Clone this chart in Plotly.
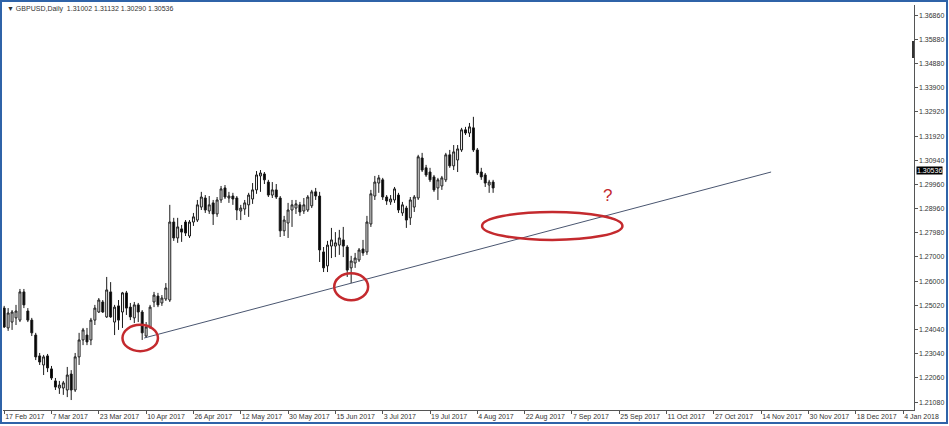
import plotly.graph_objects as go

# ---------------- data ----------------
opens = [1.2491,1.2410,1.2434,1.2451,1.2442,1.2557,1.2479,1.2442,1.2381,1.2296,
         1.2259,1.2296,1.2243,1.2194,1.2165,1.2165,1.2157,1.2222,1.2157,1.2292,
         1.2361,1.2381,1.2361,1.2442,1.2475,1.2516,1.2455,1.2557,1.2434,1.2500,
         1.2475,1.2553,1.2495,1.2451,1.2504,1.2475,1.2377,1.2414,1.2516,1.2540,
         1.2512,1.2528,1.2524,1.2842,1.2777,1.2814,1.2842,1.2785,1.2842,1.2850,
         1.2903,1.2940,1.2887,1.2920,1.2875,1.2932,1.2981,1.2940,1.2948,1.2940,
         1.2887,1.2895,1.2912,1.2936,1.2973,1.3030,1.3038,1.3005,1.2952,1.2973,
         1.2940,1.2806,1.2838,1.2891,1.2899,1.2912,1.2887,1.2891,1.2908,1.2965,
         1.2948,1.2720,1.2663,1.2744,1.2744,1.2748,1.2769,1.2740,1.2655,1.2675,
         1.2687,1.2732,1.2720,1.2834,1.2948,1.3001,1.3014,1.2944,1.2924,1.2932,
         1.2952,1.2879,1.2899,1.2859,1.2903,1.2940,1.3103,1.3063,1.3046,1.3026,
         1.2981,1.2989,1.3014,1.3116,1.3071,1.3095,1.3136,1.3218,1.3205,1.3226,
         1.3136,1.3046,1.3034,1.2993,1.3005]
highs = [1.2500,1.2491,1.2483,1.2504,1.2569,1.2569,1.2491,1.2451,1.2390,1.2308,
         1.2300,1.2304,1.2255,1.2206,1.2194,1.2194,1.2251,1.2238,1.2308,1.2390,
         1.2410,1.2410,1.2451,1.2504,1.2532,1.2524,1.2618,1.2597,1.2504,1.2524,
         1.2557,1.2561,1.2512,1.2516,1.2512,1.2483,1.2434,1.2504,1.2557,1.2553,
         1.2544,1.2593,1.2912,1.2859,1.2859,1.2830,1.2850,1.2850,1.2879,1.2932,
         1.2965,1.2952,1.2948,1.2932,1.2944,1.2989,1.2993,1.2965,1.2961,1.2948,
         1.2912,1.2932,1.2961,1.3001,1.3050,1.3054,1.3046,1.3014,1.3005,1.2997,
         1.2948,1.2867,1.2920,1.2932,1.2932,1.2924,1.2940,1.2952,1.2973,1.2981,
         1.2965,1.2740,1.2765,1.2818,1.2801,1.2810,1.2822,1.2748,1.2704,1.2716,
         1.2736,1.2769,1.2867,1.2973,1.3030,1.3034,1.3022,1.2952,1.2952,1.2985,
         1.2961,1.2924,1.2908,1.2944,1.2952,1.3116,1.3124,1.3075,1.3063,1.3034,
         1.3022,1.3030,1.3124,1.3136,1.3156,1.3156,1.3226,1.3230,1.3246,1.3271,
         1.3144,1.3063,1.3042,1.3014,1.3014]
lows = [1.2410,1.2398,1.2402,1.2422,1.2434,1.2491,1.2434,1.2377,1.2279,1.2259,
        1.2218,1.2230,1.2198,1.2157,1.2141,1.2137,1.2128,1.2116,1.2149,1.2259,
        1.2340,1.2340,1.2340,1.2422,1.2471,1.2471,1.2451,1.2451,1.2381,1.2402,
        1.2410,1.2463,1.2442,1.2430,1.2434,1.2361,1.2369,1.2406,1.2495,1.2495,
        1.2500,1.2520,1.2516,1.2765,1.2757,1.2761,1.2785,1.2777,1.2826,1.2842,
        1.2891,1.2879,1.2875,1.2830,1.2863,1.2920,1.2936,1.2920,1.2912,1.2850,
        1.2850,1.2871,1.2863,1.2916,1.2957,1.2965,1.2997,1.2944,1.2940,1.2936,
        1.2781,1.2785,1.2777,1.2822,1.2875,1.2867,1.2875,1.2883,1.2899,1.2932,
        1.2679,1.2638,1.2638,1.2695,1.2699,1.2708,1.2699,1.2618,1.2593,1.2655,
        1.2679,1.2704,1.2708,1.2822,1.2932,1.2961,1.2932,1.2912,1.2912,1.2920,
        1.2879,1.2867,1.2818,1.2830,1.2883,1.2932,1.3046,1.3026,1.3005,1.2965,
        1.2932,1.2973,1.3005,1.3063,1.3054,1.3046,1.3128,1.3197,1.3189,1.3128,
        1.3034,1.3014,1.2985,1.2961,1.2961]
closes = [1.2414,1.2471,1.2475,1.2479,1.2557,1.2504,1.2442,1.2390,1.2292,1.2271,
          1.2292,1.2247,1.2206,1.2169,1.2177,1.2186,1.2218,1.2157,1.2292,1.2361,
          1.2402,1.2353,1.2442,1.2491,1.2524,1.2475,1.2565,1.2455,1.2495,1.2442,
          1.2553,1.2491,1.2455,1.2504,1.2475,1.2390,1.2414,1.2495,1.2544,1.2504,
          1.2532,1.2573,1.2842,1.2777,1.2822,1.2801,1.2797,1.2842,1.2863,1.2912,
          1.2944,1.2891,1.2912,1.2875,1.2932,1.2977,1.2944,1.2948,1.2936,1.2891,
          1.2899,1.2920,1.2952,1.2973,1.3034,1.3042,1.3014,1.2952,1.2973,1.2944,
          1.2806,1.2850,1.2891,1.2912,1.2916,1.2883,1.2912,1.2944,1.2965,1.2948,
          1.2728,1.2655,1.2748,1.2769,1.2757,1.2777,1.2744,1.2646,1.2683,1.2695,
          1.2728,1.2716,1.2842,1.2957,1.3005,1.3022,1.2944,1.2928,1.2936,1.2977,
          1.2891,1.2912,1.2850,1.2932,1.2944,1.3108,1.3054,1.3034,1.3014,1.2973,
          1.3014,1.3022,1.3116,1.3071,1.3128,1.3140,1.3218,1.3205,1.3230,1.3136,
          1.3042,1.3026,1.3001,1.3005,1.2981]

bar_index = list(range(len(opens)))

date_labels = ["17 Feb 2017", "7 Mar 2017", "23 Mar 2017", "10 Apr 2017", "26 Apr 2017",
               "12 May 2017", "30 May 2017", "15 Jun 2017", "3 Jul 2017", "19 Jul 2017",
               "4 Aug 2017", "22 Aug 2017", "7 Sep 2017", "25 Sep 2017", "11 Oct 2017",
               "27 Oct 2017", "14 Nov 2017", "30 Nov 2017", "18 Dec 2017", "4 Jan 2018"]
bars_per_label = 12

price_ticks = [1.21080, 1.22060, 1.23040, 1.24040, 1.25020, 1.26000, 1.27000, 1.27980,
               1.28960, 1.29960, 1.30940, 1.31920, 1.32920, 1.33900, 1.34880, 1.35880,
               1.36860]

header = "▼ GBPUSD,Daily  1.31002 1.31132 1.30290 1.30536"
last_price = 1.30536

trend_x = [35.5, 194.5]
trend_y = [1.2369, 1.3046]

# hand-drawn ellipses: (x0, x1, y0, y1) in bar / price units
ellipses = [(30.0, 39.0, 1.2315, 1.2423),
            (83.7, 92.3, 1.2523, 1.2633),
            (121.2, 156.8, 1.2769, 1.2883)]
question_pos = (153.0, 1.2950)

# ---------------- figure ----------------
W, H = 949, 426
ML, MR, MT, MB = 3, 35, 5, 16
PW, PH = W - ML - MR, H - MT - MB
FONT = "Liberation Sans, Arial, sans-serif"

fig = go.Figure()
fig.add_trace(go.Candlestick(
    x=bar_index, open=opens, high=highs, low=lows, close=closes,
    increasing=dict(line=dict(color="#1a1a1a", width=1), fillcolor="#ffffff"),
    decreasing=dict(line=dict(color="#1a1a1a", width=1), fillcolor="#000000"),
    whiskerwidth=0, showlegend=False, hoverinfo="skip"))

fig.add_trace(go.Scatter(x=trend_x, y=trend_y, mode="lines",
                         line=dict(color="#4a5670", width=1), showlegend=False,
                         hoverinfo="skip"))

shapes = []
for (x0, x1, y0, y1) in ellipses:
    shapes.append(dict(type="circle", xref="x", yref="y", x0=x0, x1=x1, y0=y0, y1=y1,
                       line=dict(color="#c42a2e", width=2.5)))


def px_to_paper_x(px):
    return (px - ML) / PW


def px_to_paper_y(py):
    return (H - MB - py) / PH


# window frame
shapes.append(dict(type="rect", xref="paper", yref="paper",
                   x0=px_to_paper_x(1), x1=px_to_paper_x(947),
                   y0=px_to_paper_y(423), y1=px_to_paper_y(1),
                   line=dict(color="#2f63a8", width=2), layer="above"))
# small dark marker on the price scale near the top
shapes.append(dict(type="line", xref="paper", yref="paper",
                   x0=px_to_paper_x(913), x1=px_to_paper_x(913),
                   y0=px_to_paper_y(58), y1=px_to_paper_y(41),
                   line=dict(color="#333333", width=2)))

annotations = [
    dict(text=header, xref="paper", yref="paper", x=px_to_paper_x(5), y=px_to_paper_y(3),
         xanchor="left", yanchor="top", showarrow=False,
         font=dict(family=FONT, size=7, color="#333333")),
    dict(text="?", xref="x", yref="y", x=question_pos[0], y=question_pos[1],
         showarrow=False, font=dict(family=FONT, size=17, color="#c42a2e")),
]
# price scale labels (right side, MT4 style)
for v in price_ticks:
    annotations.append(dict(text=f"{v:.5f}", xref="paper", yref="y", x=1, y=v,
                            xanchor="left", yanchor="middle", xshift=3, showarrow=False,
                            font=dict(family=FONT, size=7, color="#333333")))
annotations.append(dict(text=f"{last_price:.5f}", xref="paper", yref="y", x=1, y=last_price,
                        xanchor="left", yanchor="middle", xshift=2, showarrow=False,
                        bgcolor="#000000", borderpad=0,
                        font=dict(family=FONT, size=7, color="#ffffff")))

fig.update_layout(
    width=W, height=H, autosize=False,
    margin=dict(l=ML, r=MR, t=MT, b=MB, pad=0),
    paper_bgcolor="#ffffff", plot_bgcolor="#ffffff",
    showlegend=False,
    shapes=shapes, annotations=annotations,
    font=dict(family=FONT, size=7, color="#333333"),
    xaxis=dict(
        type="linear", range=[-0.3, PW / 3.943 - 0.3],
        rangeslider=dict(visible=False), automargin=False,
        showgrid=False, zeroline=False,
        showline=True, linecolor="#555555", linewidth=1,
        ticks="outside", ticklen=3, tickcolor="#555555",
        tickvals=[i * bars_per_label for i in range(len(date_labels))],
        ticktext=date_labels, ticklabelposition="outside right", tickangle=0,
        tickfont=dict(family=FONT, size=7, color="#333333"),
    ),
    yaxis=dict(
        side="right", range=[1.2108 - 8 / 2452, 1.2108 + 397 / 2452],
        automargin=False,
        showgrid=False, zeroline=False,
        showline=True, linecolor="#555555", linewidth=1,
        ticks="outside", ticklen=3, tickcolor="#555555",
        tickvals=price_ticks, showticklabels=False,
    ),
)

fig.write_html("out.html",
               config={"displayModeBar": False, "staticPlot": True},
               post_script="document.body.style.margin='0';document.body.style.overflow='hidden';")
